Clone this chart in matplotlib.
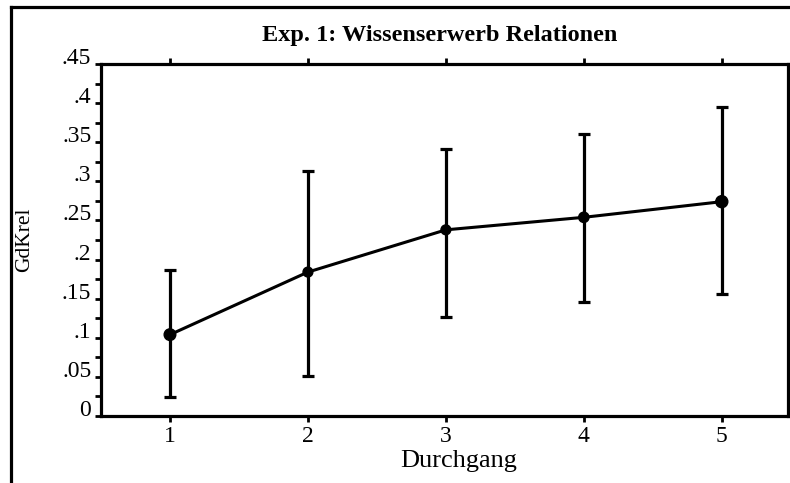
import matplotlib.pyplot as plt
from matplotlib.lines import Line2D

# data
durchgang = [1, 2, 3, 4, 5]
gdkrel_mean = [0.104, 0.184, 0.238, 0.254, 0.274]
gdkrel_low = [0.024, 0.051, 0.127, 0.146, 0.156]
gdkrel_high = [0.187, 0.313, 0.341, 0.361, 0.395]
ytick_vals = [0, 0.05, 0.1, 0.15, 0.2, 0.25, 0.3, 0.35, 0.4, 0.45]
ytick_labels = ['0', '.05', '.1', '.15', '.2', '.25', '.3', '.35', '.4', '.45']

plt.rcParams['font.family'] = ['Liberation Serif', 'DejaVu Serif']

W, H = 790, 483
fig = plt.figure(figsize=(W / 100, H / 100), dpi=100)
ax = fig.add_axes([101 / W, 1 - 416 / H, (788 - 101) / W, (416 - 64) / H])

err_lo = [m - l for m, l in zip(gdkrel_mean, gdkrel_low)]
err_hi = [h - m for m, h in zip(gdkrel_mean, gdkrel_high)]

ax.errorbar(durchgang, gdkrel_mean, yerr=[err_lo, err_hi], fmt='none',
            ecolor='black', elinewidth=2.3, capsize=4, capthick=2.3, zorder=2)
ax.plot(durchgang, gdkrel_mean, color='black', lw=2.2, zorder=3)
ax.scatter(durchgang, gdkrel_mean, s=[70, 50, 50, 55, 75], color='black', zorder=4)

ax.set_xlim(0.5, 5.48)
ax.set_ylim(0, 0.45)
ax.set_xticks(durchgang)
ax.set_yticks(ytick_vals)
ax.set_yticklabels(ytick_labels)
ax.set_yticks([v + 0.025 for v in ytick_vals[:-1]], minor=True)
for lab in ax.get_yticklabels():
    lab.set_verticalalignment('baseline')

ax.tick_params(axis='y', which='both', direction='out', length=4, width=2,
               labelsize=17, pad=3)
ax.tick_params(axis='x', direction='out', length=4, width=2, labelsize=17,
               pad=3, top=True)
for s in ax.spines.values():
    s.set_linewidth(2.3)

fig.text(440 / W, 1 - 35 / H, 'Exp. 1: Wissenserwerb Relationen',
         ha='center', va='center', fontsize=17.5, fontweight='bold')
fig.text(459 / W, 1 - 461 / H, 'Durchgang', ha='center', va='center', fontsize=19)
fig.text(25 / W, 1 - 240 / H, 'GdKrel', ha='center', va='center',
         rotation=90, fontsize=15.5)

# outer frame (left and top edges only visible)
fig.add_artist(Line2D([11 / W, 11 / W], [0, 1 - 7 / H], transform=fig.transFigure,
                      color='black', lw=2.3))
fig.add_artist(Line2D([11 / W, 1], [1 - 7 / H, 1 - 7 / H], transform=fig.transFigure,
                      color='black', lw=2.3))

fig.savefig('out.png', dpi=100)
